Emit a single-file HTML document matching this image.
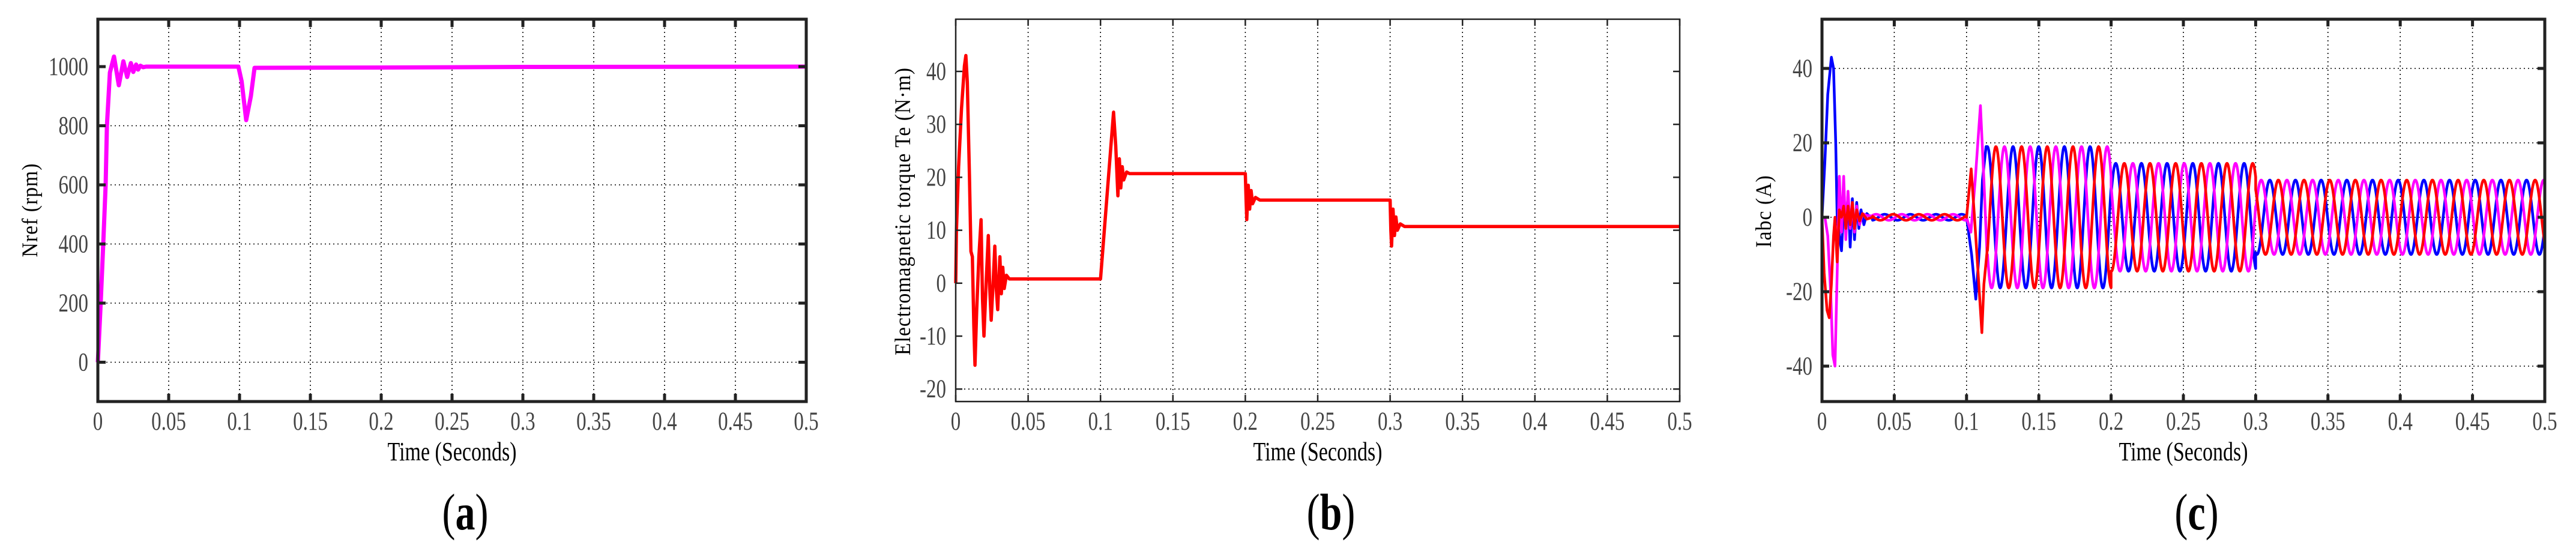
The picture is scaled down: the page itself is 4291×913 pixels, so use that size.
<!DOCTYPE html>
<html><head><meta charset="utf-8"><style>
html,body{margin:0;padding:0;background:#fff;}
svg{display:block;}
text{font-family:"Liberation Serif",serif;}
</style></head><body>
<svg id="fig" width="4291" height="913" viewBox="0 0 4291 913" xmlns="http://www.w3.org/2000/svg"></svg>
<script>
// ---------- Panel (a) data ----------
const speedT = [0,0.002,0.0038,0.0055,0.0064,0.0085,0.0114,0.0148,0.018,0.0207,0.0233,0.025,0.027,0.0284,0.030,0.032,0.034,0.0992,0.1015,0.1047,0.108,0.1106,0.2,0.3,0.5];
const speedV = [0,200,400,600,800,980,1034,937,1018,965,1012,982,1007,990,1003,998,1000,1000,950,819,900,996,997,999,1000];
const speedYTicks = [0,200,400,600,800,1000];
// ---------- Panel (b) data ----------
const torqueT = [0,0.0005,0.002,0.004,0.006,0.007,0.008,0.0095,0.0105,0.0115,0.0125,0.0133,0.0145,0.016,0.0175,0.0185,0.0195,0.021,0.0225,0.0235,0.0245,0.026,0.027,0.028,0.029,0.0305,0.0315,0.0325,0.0335,0.035,0.037,0.1,0.109,0.1105,0.112,0.113,0.114,0.115,0.116,0.118,0.12,0.2,0.2005,0.201,0.202,0.203,0.204,0.205,0.207,0.21,0.3,0.3005,0.301,0.302,0.303,0.304,0.305,0.307,0.31,0.5];
const torqueV = [0,10,22,33,41,43,38,20,6,5,-8,-15.5,-5,5,12,-3,-10,0,9,-1,-7,1,7,-1,-5,5,-2,3,-1,1.5,0.8,0.8,32.3,26,16.5,23.5,18,22,19.5,21,20.7,20.7,16,12,18.5,14,17.5,15,16.2,15.7,15.7,10,7,14,9,12.5,10,11.2,10.7,10.7];
const torqueYTicks = [-20,-10,0,10,20,30,40];
// ---------- Panel (c) data ----------
const blueStartT = [0,0.002,0.004,0.0065,0.008,0.0095,0.0105,0.012,0.0135,0.015,0.0165,0.018,0.0195,0.021,0.0225,0.024,0.0255,0.027,0.029,0.031,0.035];
const blueStartV = [0,15,33,43,40,20,0,-5,-9,3,-3,6,-8,5,-6,4,-3,2,-2,1,-0.5];
const magStartT = [0,0.002,0.004,0.006,0.0075,0.009,0.0105,0.012,0.0135,0.015,0.0165,0.018,0.0195,0.021,0.0225,0.024,0.026,0.028,0.031,0.035];
const magStartV = [0,0,-5,-20,-37,-40,-15,11,-4,11,-6,7,-3,4,-4,3,-2,1,0.5,0.3];
const redStartT = [0,0.0015,0.0035,0.005,0.0065,0.008,0.009,0.0105,0.012,0.0135,0.015,0.0165,0.018,0.0195,0.021,0.0225,0.024,0.026,0.028,0.031,0.035];
const redStartV = [0,-15,-25,-27,-18,-5,0,-12,2,0,3,-3,3,-2,4,-3,2,-1,1,-0.5,0];
const blueStepT = [0.1,0.1035,0.1064,0.109,0.111,0.1135];
const blueStepV = [0,-10,-22,-8,10,19];
const magStepT = [0.1,0.103,0.106,0.1096,0.112,0.1145];
const magStepV = [0,-4,10,30,10,-13];
const redStepT = [0.1,0.1032,0.1055,0.108,0.1106,0.112,0.1145];
const redStepV = [0,13,0,-15,-31,-18,-8];
const segStart = [0.035,0.1145,0.2,0.3];
const segEnd = [0.1,0.2,0.3,0.5];
const segAmp = [0.8,19,14.5,10];
const currentFreq = [56.3];
const bluePeakTime = [0.1144];
const currentYTicks = [-40,-20,0,20,40];
const xTicks = [0,0.05,0.1,0.15,0.2,0.25,0.3,0.35,0.4,0.45,0.5];
const xTickLabels = ["0","0.05","0.1","0.15","0.2","0.25","0.3","0.35","0.4","0.45","0.5"];

const NS = "http://www.w3.org/2000/svg";
const fig = document.getElementById('fig');
const SY = 1.3;
function mk(tag, parent){ const e=document.createElementNS(NS,tag); parent.appendChild(e); return e; }
function place(el,x,y){ el.setAttribute('transform','translate('+x+','+y+') scale(1,'+SY+')'); }

function panel(cfg){
  const g = mk('g', fig);
  
  
  const X = t => cfg.x0 + (t/0.5)*(cfg.x1-cfg.x0);
  const Y = v => cfg.yRef + (cfg.vRef - v)*cfg.ppu;
  const gg = mk('g', g);
  
  
  xTicks.forEach((t,i)=>{
    if(i===0||i===xTicks.length-1) return;
    const l = mk('line', gg);
    
    
    l.setAttribute('x1',X(t)); l.setAttribute('x2',X(t)); l.setAttribute('y1',cfg.top); l.setAttribute('y2',cfg.bottom);
    l.setAttribute('stroke','#000'); l.setAttribute('stroke-width','1.6'); l.setAttribute('stroke-dasharray','2,5');
  });
  cfg.yGrid.forEach(v=>{
    const l = mk('line', gg);
    
    
    l.setAttribute('x1',cfg.x0); l.setAttribute('x2',cfg.x1); l.setAttribute('y1',Y(v)); l.setAttribute('y2',Y(v));
    l.setAttribute('stroke','#000'); l.setAttribute('stroke-width','1.6'); l.setAttribute('stroke-dasharray','2,5');
  });
  cfg.series.forEach(s=>{
    const p = mk('path', g);
    
    
    let d='';
    s.t.forEach((t,i)=>{ d += (i?'L':'M') + X(t).toFixed(2) + ',' + Y(s.v[i]).toFixed(2); });
    p.setAttribute('d', d);
    p.setAttribute('fill','none'); p.setAttribute('stroke',s.color); p.setAttribute('stroke-width',s.w);
    p.setAttribute('stroke-linejoin','round');
  });
  const fr = mk('rect', g);
  
  
  fr.setAttribute('x',cfg.x0); fr.setAttribute('y',cfg.top); fr.setAttribute('width',cfg.x1-cfg.x0); fr.setAttribute('height',cfg.bottom-cfg.top);
  fr.setAttribute('fill','none'); fr.setAttribute('stroke','#222'); fr.setAttribute('stroke-width',cfg.fw);
  xTicks.forEach((t,i)=>{
    [[cfg.bottom,-1],[cfg.top,1]].forEach(([yb,dir])=>{
      const l = mk('line', g);
      
      
      l.setAttribute('x1',X(t)); l.setAttribute('x2',X(t)); l.setAttribute('y1',yb); l.setAttribute('y2',yb+dir*cfg.tl);
      l.setAttribute('stroke','#222'); l.setAttribute('stroke-width',cfg.tw);
    });
    const tx = mk('text', g);
    
    
    place(tx, X(t), 716);
    tx.setAttribute('text-anchor','middle');
    tx.setAttribute('font-size','33'); tx.setAttribute('fill','#444');
    tx.textContent = xTickLabels[i];
  });
  cfg.yTicks.forEach(v=>{
    [[cfg.x0,1],[cfg.x1,-1]].forEach(([xb,dir])=>{
      const l = mk('line', g);
      
      
      l.setAttribute('x1',xb); l.setAttribute('x2',xb+dir*cfg.tl); l.setAttribute('y1',Y(v)); l.setAttribute('y2',Y(v));
      l.setAttribute('stroke','#222'); l.setAttribute('stroke-width',cfg.tw);
    });
    const tx = mk('text', g);
    
    
    place(tx, cfg.x0-16, Y(v)+14);
    tx.setAttribute('text-anchor','end');
    tx.setAttribute('font-size','33'); tx.setAttribute('fill','#444');
    tx.textContent = String(v);
  });
  const yt = mk('text', g);
  
  
  yt.setAttribute('transform','translate('+cfg.ylx+','+cfg.yly+') rotate(-90) scale(1.05,1.15)');
  yt.setAttribute('text-anchor','middle'); yt.setAttribute('font-size','32'); yt.setAttribute('letter-spacing','1');
  yt.textContent = cfg.ylabel;
  const xt = mk('text', g);
  
  
  place(xt, (cfg.x0+cfg.x1)/2, 767);
  xt.setAttribute('text-anchor','middle');
  xt.setAttribute('font-size','34');
  xt.textContent = 'Time (Seconds)';
  const pl = mk('text', g);
  
  
  place(pl, (cfg.x0+cfg.x1)/2+22, 882);
  pl.setAttribute('text-anchor','middle');
  pl.setAttribute('font-size','66');
  pl.innerHTML = '(<tspan font-weight="bold">'+cfg.letter+'</tspan>)';
}

function buildPhase(startT,startV,stepT,stepV,lagCycles){
  const T=[],V=[];
  startT.forEach((t,i)=>{T.push(t);V.push(startV[i]);});
  const f=currentFreq[0], t0=bluePeakTime[0]+lagCycles/f;
  const addSeg=(a,b,amp)=>{ const n=Math.ceil((b-a)/0.0003); for(let k=0;k<=n;k++){const t=a+(b-a)*k/n; T.push(t); V.push(amp*Math.cos(2*Math.PI*f*(t-t0)));} };
  addSeg(segStart[0],segEnd[0],segAmp[0]);
  stepT.forEach((t,i)=>{T.push(t);V.push(stepV[i]);});
  for(let s=1;s<segStart.length;s++) addSeg(segStart[s],segEnd[s],segAmp[s]);
  return {t:T,v:V};
}
const blue = buildPhase(blueStartT,blueStartV,blueStepT,blueStepV,0);
const red = buildPhase(redStartT,redStartV,redStepT,redStepV,1/3);
const mag = buildPhase(magStartT,magStartV,magStepT,magStepV,2/3);

panel({name:'speed-chart', letter:'a', x0:163, x1:1343, top:32, bottom:669, yRef:111, vRef:1000, ppu:0.4925,
  fw:5, tw:5, tl:13, yTicks:speedYTicks, yGrid:[0,200,400,600,800], ylabel:'Nref (rpm)', ylx:62, yly:350,
  series:[{name:'speed-line', t:speedT, v:speedV, color:'#ff00ff', w:7}]});
panel({name:'torque-chart', letter:'b', x0:1592, x1:2798, top:32, bottom:669, yRef:119, vRef:40, ppu:8.82,
  fw:2.5, tw:2.5, tl:11, yTicks:torqueYTicks, yGrid:[-20], ylabel:'Electromagnetic torque Te (N\u00b7m)', ylx:1516, yly:352,
  series:[{name:'torque-line', t:torqueT, v:torqueV, color:'#ff0000', w:5.5}]});
panel({name:'current-chart', letter:'c', x0:3035, x1:4239, top:32, bottom:669, yRef:362, vRef:0, ppu:6.2,
  fw:5, tw:5, tl:12, yTicks:currentYTicks, yGrid:[-40,-20,0,20,40], ylabel:'Iabc (A)', ylx:2950, yly:352,
  series:[{name:'phase-b-current', t:blue.t, v:blue.v, color:'#0000ff', w:4.5},
          {name:'phase-c-current', t:mag.t, v:mag.v, color:'#ff00ff', w:4.5},
          {name:'phase-a-current', t:red.t, v:red.v, color:'#ff0000', w:4.5}]});
</script>
</body></html>
